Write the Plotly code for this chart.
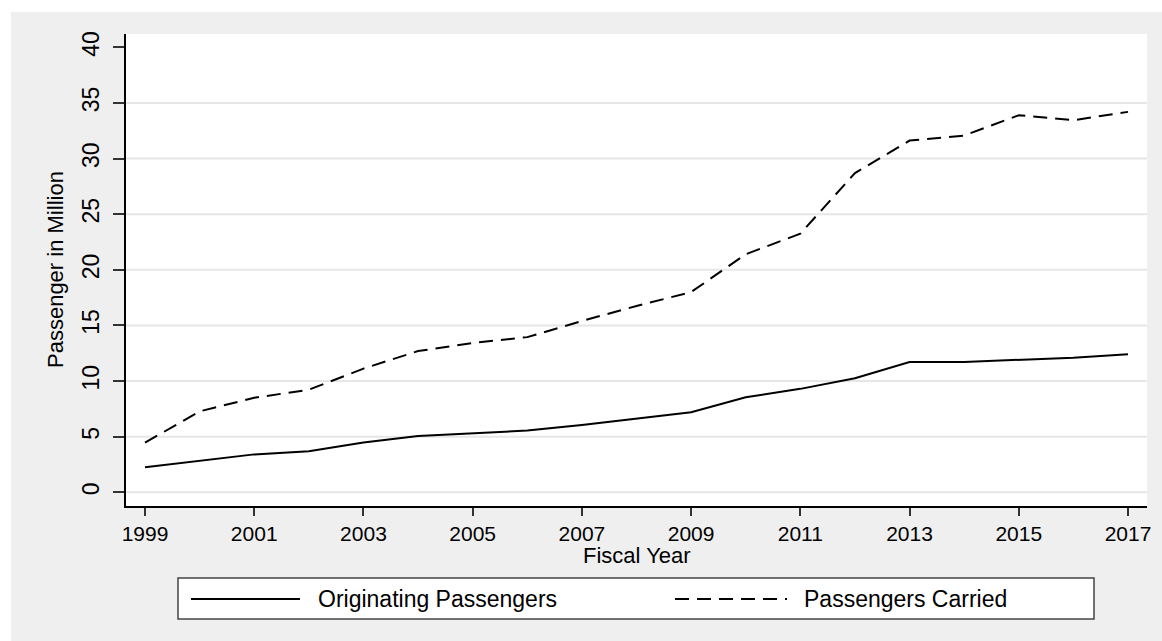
import plotly.graph_objects as go

# Passenger traffic by fiscal year (millions)
years = list(range(1999, 2018))
originating = [2.25, 2.85, 3.41, 3.70, 4.48, 5.06, 5.32, 5.55, 6.05, 6.62,
               7.20, 8.54, 9.30, 10.25, 11.72, 11.72, 11.88, 12.10, 12.42]
carried = [4.46, 7.28, 8.50, 9.22, 11.12, 12.70, 13.42, 13.95, 15.40, 16.75,
           18.00, 21.40, 23.25, 28.70, 31.62, 32.07, 33.90, 33.45, 34.20]

series_names = ["Originating Passengers", "Passengers Carried"]
x_ticks = list(range(1999, 2018, 2))
y_ticks = list(range(0, 41, 5))
grid_values = list(range(0, 36, 5))

W, H = 1162, 641
ML, MR, MT, MB = 126, 15, 34, 135
PW, PH = W - ML - MR, H - MT - MB


def px(x):
    """Canvas pixel column -> paper x."""
    return (x - ML) / PW


def py(y):
    """Canvas pixel row -> paper y."""
    return (H - MB - y) / PH


FONT = "Arial, Liberation Sans, sans-serif"
DASH = "14px,8px"

fig = go.Figure()
fig.add_trace(go.Scatter(x=years, y=originating, mode="lines", name=series_names[0],
                         line=dict(color="black", width=2)))
fig.add_trace(go.Scatter(x=years, y=carried, mode="lines", name=series_names[1],
                         line=dict(color="black", width=2, dash=DASH)))

shapes = []
# white outer strips around the grey backdrop
shapes.append(dict(type="rect", xref="paper", yref="paper", x0=px(0), x1=px(W),
                   y0=py(12), y1=py(0), fillcolor="white", line_width=0, layer="below"))
shapes.append(dict(type="rect", xref="paper", yref="paper", x0=px(0), x1=px(11),
                   y0=py(H), y1=py(0), fillcolor="white", line_width=0, layer="below"))
# horizontal grid
for g in grid_values:
    shapes.append(dict(type="line", xref="paper", yref="y", x0=0, x1=1, y0=g, y1=g,
                       line=dict(color="#e6e6e6", width=2), layer="below"))
# legend box and keys
legend_y = py(599)
shapes.append(dict(type="rect", xref="paper", yref="paper", x0=px(178), x1=px(1094),
                   y0=py(619), y1=py(578), fillcolor="white",
                   line=dict(color="#444444", width=1.5)))
shapes.append(dict(type="line", xref="paper", yref="paper", x0=px(191), x1=px(300),
                   y0=legend_y, y1=legend_y, line=dict(color="black", width=2)))
shapes.append(dict(type="line", xref="paper", yref="paper", x0=px(675), x1=px(787),
                   y0=legend_y, y1=legend_y, line=dict(color="black", width=2, dash=DASH)))

annotations = [
    dict(text="Fiscal Year", xref="paper", yref="paper", x=0.5, y=py(541),
         xanchor="center", yanchor="top", showarrow=False,
         font=dict(family=FONT, size=22, color="black")),
    dict(text="Passenger in Million", xref="paper", yref="paper", x=px(55), y=0.5,
         xanchor="center", yanchor="middle", textangle=-90, showarrow=False,
         font=dict(family=FONT, size=22, color="black")),
    dict(text=series_names[0], xref="paper", yref="paper", x=px(316), y=legend_y,
         xanchor="left", yanchor="middle", showarrow=False,
         font=dict(family=FONT, size=23, color="black")),
    dict(text=series_names[1], xref="paper", yref="paper", x=px(802), y=legend_y,
         xanchor="left", yanchor="middle", showarrow=False,
         font=dict(family=FONT, size=23, color="black")),
]

fig.update_layout(
    width=W, height=H,
    margin=dict(l=ML, r=MR, t=MT, b=MB, autoexpand=False),
    paper_bgcolor="#efefef",
    plot_bgcolor="white",
    showlegend=False,
    shapes=shapes,
    annotations=annotations,
    font=dict(family=FONT, color="black"),
    xaxis=dict(range=[1998.652, 2017.348], tickmode="array", tickvals=x_ticks,
               ticktext=[str(t) for t in x_ticks], ticks="outside", ticklen=8,
               tickwidth=1.5, tickcolor="#333333", showgrid=False, zeroline=False,
               showline=True, linecolor="black", linewidth=1.5,
               tickfont=dict(family=FONT, size=21, color="black")),
    yaxis=dict(range=[-1.23, 41.2], tickmode="array", tickvals=y_ticks,
               ticktext=[str(t) for t in y_ticks], ticks="outside", ticklen=11,
               tickwidth=1.5, tickcolor="#333333", showgrid=False, zeroline=False,
               showline=True, linecolor="black", linewidth=1.5, tickangle=-90,
               ticklabelstandoff=5,
               tickfont=dict(family=FONT, size=23, color="black")),
)

fig.write_html("out.html")
